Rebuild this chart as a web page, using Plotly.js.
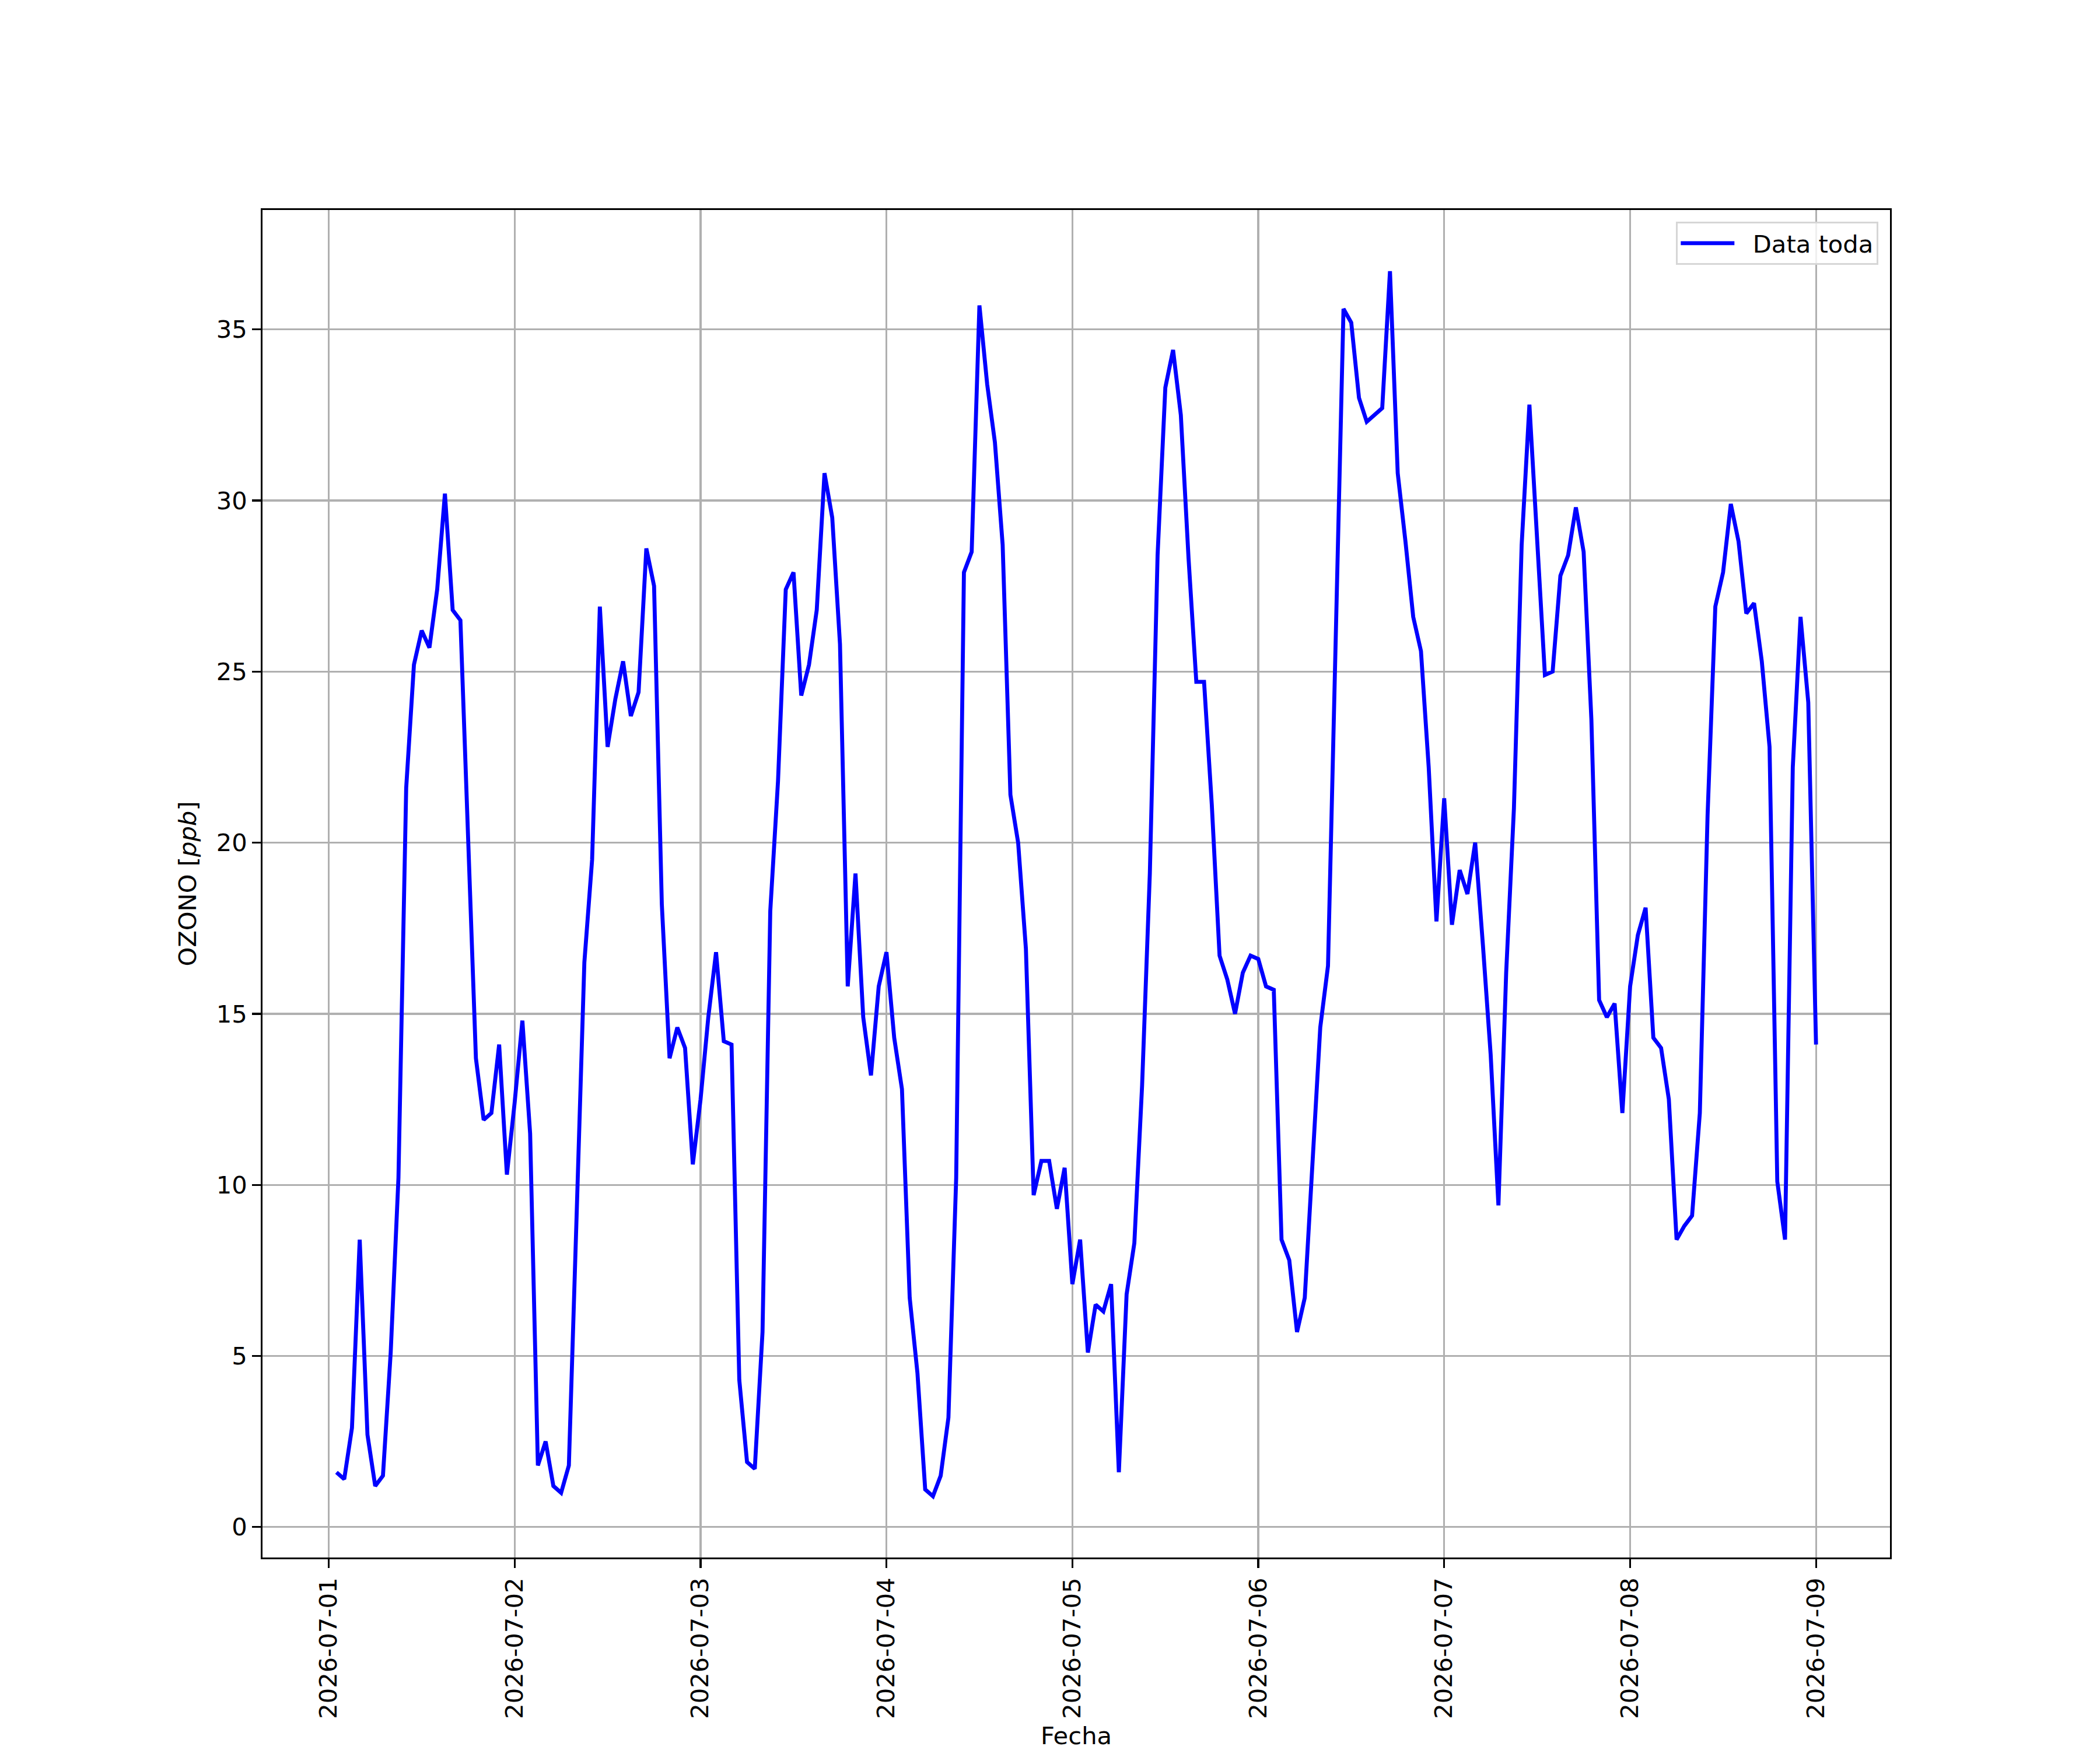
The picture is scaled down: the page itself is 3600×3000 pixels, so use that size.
<!DOCTYPE html>
<html>
<head>
<meta charset="utf-8">
<script src="https://cdn.plot.ly/plotly-3.0.1.min.js"></script>
<style>
  html, body { margin: 0; padding: 0; background: #ffffff; }
  #chart { width: 3600px; height: 3000px; }
</style>
</head>
<body>
<div id="chart"></div>
<script>
// Hourly ozone readings [ppb], first reading 2026-07-01 01:00
const inicio = Date.UTC(2026, 6, 1, 1, 0, 0);
const dia1 = [1.6, 1.4, 2.9, 8.4, 2.7, 1.2, 1.5, 5.1, 10.2, 21.6, 25.2, 26.2, 25.7, 27.4, 30.2, 26.8, 26.5, 19.9, 13.7, 11.9, 12.1, 14.1, 10.3];
const dia2 = [12.4, 14.8, 11.5, 1.8, 2.5, 1.2, 1.0, 1.8, 9.1, 16.5, 19.5, 26.9, 22.8, 24.2, 25.3, 23.7, 24.4, 28.6, 27.5, 18.2, 13.7, 14.6, 14.0, 10.6];
const dia3 = [12.5, 14.9, 16.8, 14.2, 14.1, 4.3, 1.9, 1.7, 5.7, 18.0, 21.8, 27.4, 27.9, 24.3, 25.2, 26.8, 30.8, 29.5, 25.8, 15.8, 19.1, 14.9, 13.2, 15.8];
const dia4 = [16.8, 14.3, 12.8, 6.7, 4.5, 1.1, 0.9, 1.5, 3.2, 10.2, 27.9, 28.5, 35.7, 33.4, 31.7, 28.7, 21.4, 20.0, 16.9, 9.7, 10.7, 10.7, 9.3, 10.5];
const dia5 = [7.1, 8.4, 5.1, 6.5, 6.3, 7.1, 1.6, 6.8, 8.3, 12.9, 19.1, 28.4, 33.3, 34.4, 32.5, 28.3, 24.7, 24.7, 21.1, 16.7, 16.0, 15.0, 16.2, 16.7];
const dia6 = [16.6, 15.8, 15.7, 8.4, 7.8, 5.7, 6.7, 10.6, 14.6, 16.4, 26.5, 35.6, 35.2, 33.0, 32.3, 32.5, 32.7, 36.7, 30.8, 28.8, 26.6, 25.6, 22.2, 17.7];
const dia7 = [21.3, 17.6, 19.2, 18.5, 20.0, 17.0, 13.8, 9.4, 16.2, 21.0, 28.7, 32.8, 28.7, 24.9, 25.0, 27.8, 28.4, 29.8, 28.5, 23.6, 15.4, 14.9, 15.3, 12.1];
const dia8 = [15.8, 17.3, 18.1, 14.3, 14.0, 12.5, 8.4, 8.8, 9.1, 12.1, 20.8, 26.9, 27.9, 29.9, 28.8, 26.7, 27.0, 25.3, 22.8, 10.1, 8.4, 22.2, 26.6, 24.1];
const dia9 = [14.1];

const serieNombre = 'Data toda';
const ejeX = 'Fecha';
const ejeY = 'OZONO [<i>ppb</i>]';

const ozono = [].concat(dia1, dia2, dia3, dia4, dia5, dia6, dia7, dia8, dia9);
const HORA = 3600000;
const fechasMs = ozono.map((_, i) => inicio + i * HORA);
const fechas = fechasMs.map(ms => {
  const s = new Date(ms).toISOString();
  return s.slice(0, 10) + ' ' + s.slice(11, 19);
});

// matplotlib-like 5% autoscale margins
const xmin = fechasMs[0], xmax = fechasMs[fechasMs.length - 1];
const xpad = 0.05 * (xmax - xmin);
const ymin = Math.min(...ozono), ymax = Math.max(...ozono);
const ypad = 0.05 * (ymax - ymin);

const FONT = 'DejaVu Sans, Liberation Sans, sans-serif';
const FS = 41.67;

const trace = {
  x: fechas,
  y: ozono,
  type: 'scatter',
  mode: 'lines',
  name: '\u00a0\u00a0' + serieNombre,
  line: { color: '#0000ff', width: 6.8 },
  showlegend: true
};

const layout = {
  width: 3600,
  height: 3000,
  paper_bgcolor: '#ffffff',
  plot_bgcolor: '#ffffff',
  margin: { l: 450, r: 360, t: 360, b: 330, pad: 0 },
  font: { family: FONT, size: FS, color: '#000000' },
  showlegend: true,
  xaxis: {
    type: 'date',
    range: [xmin - xpad, xmax + xpad],
    tick0: '2026-07-01',
    dtick: 86400000,
    tickformat: '%Y-%m-%d',
    tickangle: -90,
    ticks: 'outside',
    ticklen: 14.6,
    tickwidth: 3.33,
    tickcolor: '#000000',
    tickfont: { family: FONT, size: FS, color: '#000000' },
    showline: true,
    linecolor: '#000000',
    linewidth: 3.33,
    mirror: true,
    showgrid: true,
    gridcolor: '#b0b0b0',
    gridwidth: 3.33,
    zeroline: false,
    title: { text: ejeX, font: { family: FONT, size: FS, color: '#000000' }, standoff: 20 }
  },
  yaxis: {
    range: [ymin - ypad, ymax + ypad],
    tick0: 0,
    dtick: 5,
    ticks: 'outside',
    ticklen: 14.6,
    tickwidth: 3.33,
    tickcolor: '#000000',
    tickfont: { family: FONT, size: FS, color: '#000000' },
    showline: true,
    linecolor: '#000000',
    linewidth: 3.33,
    mirror: true,
    showgrid: true,
    gridcolor: '#b0b0b0',
    gridwidth: 3.33,
    zeroline: false,
    title: { text: ejeY, font: { family: FONT, size: FS, color: '#000000' }, standoff: 22 }
  },
  legend: {
    x: 1 - 20 / 2790,
    xanchor: 'right',
    y: 1 - 20 / 2310,
    yanchor: 'top',
    bgcolor: 'rgba(255,255,255,0.8)',
    bordercolor: '#d6d6d6',
    borderwidth: 3.3,
    font: { family: FONT, size: FS, color: '#000000' },
    itemwidth: 92
  }
};

Plotly.newPlot('chart', [trace], layout, { staticPlot: true, displayModeBar: false });
</script>
</body>
</html>
